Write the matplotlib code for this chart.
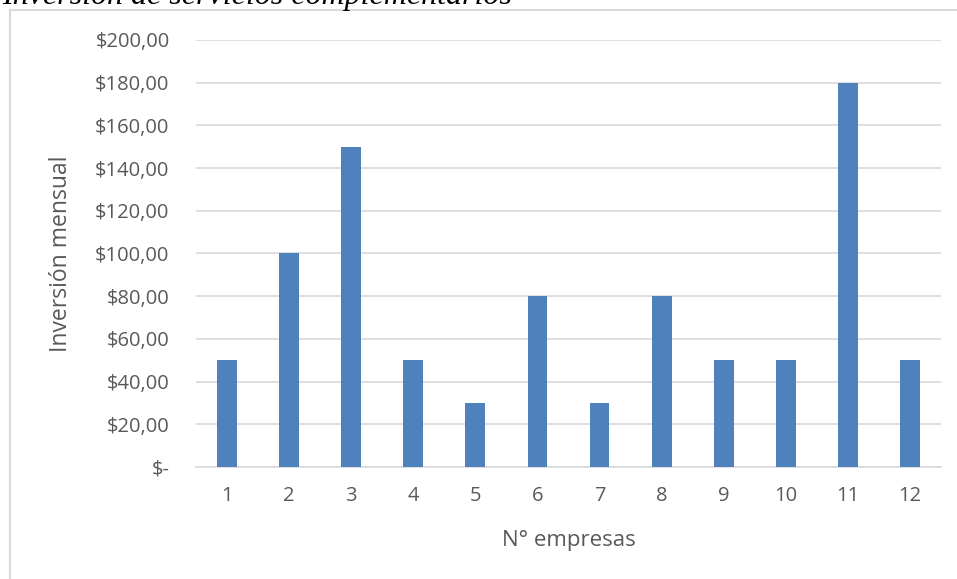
import matplotlib
matplotlib.use('Agg')
import matplotlib.pyplot as plt
from matplotlib.ticker import FuncFormatter

# monthly spend per company
empresas = [1, 2, 3, 4, 5, 6, 7, 8, 9, 10, 11, 12]
inversion = [50, 100, 150, 50, 30, 80, 30, 80, 50, 50, 180, 50]
y_ticks = [0, 20, 40, 60, 80, 100, 120, 140, 160, 180, 200]

bar_color = '#4f81bd'
grid_color = '#d9d9d9'
text_color = '#595959'
font = ['Open Sans', 'DejaVu Sans']

fig = plt.figure(figsize=(9.57, 5.79), dpi=100)
ax = fig.add_axes([196 / 957, 1 - 467 / 579, 745 / 957, 427 / 579])

ax.bar(empresas, inversion, width=0.32, color=bar_color, zorder=3)

def money(v, pos):
    if v == 0:
        return '$-'
    return '${:,.2f}'.format(v).replace(',', 'X').replace('.', ',').replace('X', '.')

ax.set_ylim(0, 200)
ax.set_yticks(y_ticks)
ax.yaxis.set_major_formatter(FuncFormatter(money))
ax.set_xlim(0.5, 12.5)
ax.set_xticks(empresas)
ax.set_xticklabels([str(e) for e in empresas])

ax.grid(axis='y', color=grid_color, linewidth=1.2, zorder=0)
for s in ['top', 'right', 'left']:
    ax.spines[s].set_visible(False)
ax.spines['bottom'].set_color(grid_color)
ax.spines['bottom'].set_linewidth(1.2)
ax.tick_params(axis='both', length=0, colors=text_color, labelsize=14.5)
ax.tick_params(axis='y', pad=19)
ax.tick_params(axis='x', pad=14)
for lbl in ax.get_xticklabels() + ax.get_yticklabels():
    lbl.set_family(font)

ax.set_ylabel('Inversión mensual', fontsize=16.5, color=text_color, family=font)
ax.yaxis.set_label_coords(-(196 - 73) / 745, 0.5)
ax.set_xlabel('N° empresas', fontsize=16, color=text_color, family=font)
ax.xaxis.set_label_coords(0.5, -(530 - 467) / 427)

# chart frame, cut off at the right and bottom
frame_x = 10 / 957
frame_y = 1 - 10 / 579
fig.add_artist(plt.Line2D([frame_x, frame_x], [0, frame_y], color=grid_color, linewidth=1.5,
                          transform=fig.transFigure))
fig.add_artist(plt.Line2D([frame_x, 1], [frame_y, frame_y], color=grid_color, linewidth=1.5,
                          transform=fig.transFigure))

# caption above the frame, only its lower part shows
fig.text(2 / 957, 1 - 4 / 579, 'Inversión de servicios complementarios', fontsize=23,
         family='Liberation Serif', style='italic', color='black', va='baseline', ha='left')

fig.savefig('out.png', dpi=100)
